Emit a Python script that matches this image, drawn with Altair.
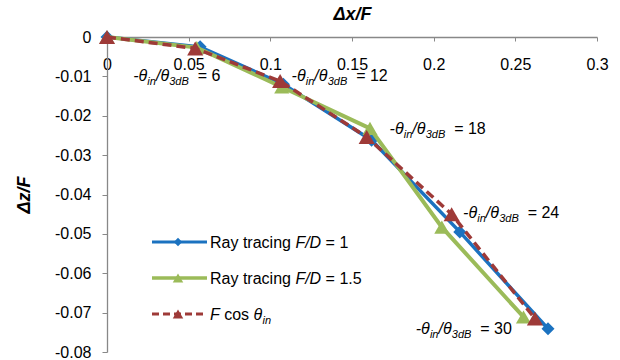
import altair as alt
import pandas as pd

# ---- data ----
x_blue = [0, 0.057, 0.108, 0.162, 0.216, 0.270]
y_blue = [0, -0.0025, -0.0120, -0.0262, -0.0495, -0.0741]
x_green = [0, 0.055, 0.107, 0.161, 0.205, 0.255]
y_green = [0, -0.0027, -0.0127, -0.0232, -0.0483, -0.0711]
x_red = [0, 0.054, 0.106, 0.159, 0.211, 0.262]
y_red = [0, -0.0029, -0.0112, -0.0254, -0.0450, -0.0715]

label_x = [0.016, 0.113, 0.173, 0.218, 0.189]
label_y = [-0.0097, -0.0097, -0.0232, -0.0445, -0.0740]
label_num = ["6", "12", "18", "24", "30"]

x_ticks = [0, 0.05, 0.1, 0.15, 0.2, 0.25, 0.3]
y_ticks = [0, -0.01, -0.02, -0.03, -0.04, -0.05, -0.06, -0.07, -0.08]

BLUE = "#1B72C0"
GREEN = "#9BBB59"
RED = "#9E3A38"
AXC = "#888888"
FONT = "Liberation Sans"

W, H = 490, 315

xscale = alt.Scale(domain=[0, 0.3], nice=False, zero=False)
yscale = alt.Scale(domain=[-0.08, 0], nice=False, zero=False)

fmt = "replace(format(datum.value, '.2~f'), '\u2212', '-')"

xaxis = alt.Axis(orient="bottom", offset=-H, values=x_ticks, tickSize=4,
                 tickColor=AXC, domainColor=AXC, domainWidth=1.3, grid=False,
                 labelFontSize=16, labelFont=FONT, labelColor="#000000",
                 labelPadding=15, labelFlush=False, labelExpr=fmt,
                 title="Δx/F", titleFont=FONT, titleFontSize=18,
                 titleFontStyle="italic", titleFontWeight="bold",
                 titleColor="#000000", titleY=-23, titleBaseline="middle")
yaxis = alt.Axis(orient="left", values=y_ticks, tickSize=5, tickColor=AXC,
                 domainColor=AXC, domainWidth=1.3, grid=False,
                 labelFontSize=16, labelFont=FONT, labelColor="#000000",
                 labelPadding=11, labelFlush=False, labelExpr=fmt,
                 title="Δz/F", titleFont=FONT, titleFontSize=18,
                 titleFontStyle="italic", titleFontWeight="bold",
                 titleColor="#000000", titleX=-83, titleY=H / 2,
                 titleAngle=-90, titleAlign="center", titleBaseline="middle")


def series_df(xs, ys):
    return pd.DataFrame({"x": xs, "y": ys, "i": list(range(len(xs)))})


def enc(ch):
    return ch.encode(
        x=alt.X("x:Q", scale=xscale, axis=xaxis),
        y=alt.Y("y:Q", scale=yscale, axis=yaxis),
        order="i:Q",
    )


blue = series_df(x_blue, y_blue)
green = series_df(x_green, y_green)
red = series_df(x_red, y_red)

layers = [
    enc(alt.Chart(blue).mark_line(color=BLUE, strokeWidth=3.5)),
    enc(alt.Chart(blue).mark_point(shape="diamond", filled=True, color=BLUE, size=170, opacity=1)),
    enc(alt.Chart(green).mark_line(color=GREEN, strokeWidth=4)),
    enc(alt.Chart(green).mark_point(shape="triangle-up", filled=True, color=GREEN, size=230, opacity=1)),
    enc(alt.Chart(red).mark_line(color=RED, strokeWidth=3.5, strokeDash=[9, 5])),
    enc(alt.Chart(red).mark_point(shape="triangle-up", filled=True, color=RED, size=260, opacity=1)),
]

# ---- data labels: -θin/θ3dB = N (composed with sub-scripts) ----
labs = pd.DataFrame({"x": label_x, "y": label_y, "num": ["= " + n for n in label_num]})
parts = [
    dict(text="-θ", dx=0, dy=6, fontSize=16, fontStyle="italic"),
    dict(text="in", dx=14.2, dy=10, fontSize=11, fontStyle="italic"),
    dict(text="/θ", dx=22.8, dy=6, fontSize=16, fontStyle="italic"),
    dict(text="3dB", dx=36.1, dy=10, fontSize=11, fontStyle="italic"),
]
for p in parts:
    layers.append(
        alt.Chart(labs).mark_text(align="left", baseline="alphabetic", font=FONT,
                                  color="#000000", **p).encode(
            x=alt.X("x:Q", scale=xscale, axis=xaxis),
            y=alt.Y("y:Q", scale=yscale, axis=yaxis),
        )
    )
layers.append(
    alt.Chart(labs).mark_text(align="left", baseline="alphabetic", font=FONT,
                              color="#000000", dx=64.6, dy=6, fontSize=16).encode(
        x=alt.X("x:Q", scale=xscale, axis=xaxis),
        y=alt.Y("y:Q", scale=yscale, axis=yaxis),
        text="num:N",
    )
)

# ---- manual legend (mixed italic text) ----
dummy = pd.DataFrame({"a": [0]})
LX1, LX2, LXM, TX = 45, 100, 71, 103
rows = [205, 241, 277]


def legline(y, color, width, dash=None):
    kw = dict(color=color, strokeWidth=width)
    if dash:
        kw["strokeDash"] = dash
    return alt.Chart(dummy).mark_rule(**kw).encode(
        x=alt.value(LX1), x2=alt.value(LX2), y=alt.value(y))


def legmark(y, color, shape, size):
    return alt.Chart(dummy).mark_point(shape=shape, filled=True, color=color,
                                       size=size, opacity=1).encode(
        x=alt.value(LXM), y=alt.value(y))


def legtext(y, text, dx=0, dy=6, size=16, style="normal"):
    return alt.Chart(dummy).mark_text(text=text, align="left", baseline="alphabetic",
                                      font=FONT, fontSize=size, fontStyle=style,
                                      color="#000000", dx=dx, dy=dy).encode(
        x=alt.value(TX), y=alt.value(y))


r1, r2, r3 = rows
layers += [
    legline(r1, BLUE, 3), legmark(r1, BLUE, "diamond", 70),
    legtext(r1, "Ray tracing"), legtext(r1, "F/D", dx=85.4, style="italic"),
    legtext(r1, "= 1", dx=115.6),
    legline(r2, GREEN, 3.5), legmark(r2, GREEN, "triangle-up", 110),
    legtext(r2, "Ray tracing"), legtext(r2, "F/D", dx=85.4, style="italic"),
    legtext(r2, "= 1.5", dx=115.6),
    legline(r3, RED, 3, [7, 4]), legmark(r3, RED, "triangle-up", 110),
    legtext(r3, "F", style="italic"), legtext(r3, "cos", dx=14.2),
    legtext(r3, "θ", dx=43.6, style="italic"),
    legtext(r3, "in", dx=52.5, dy=10, size=11, style="italic"),
]

chart = alt.layer(*layers).properties(
    width=W, height=H,
    autosize=alt.AutoSizeParams(type="none"),
    padding={"left": 107, "top": 37, "right": 23, "bottom": 8},
    background="white",
).configure_view(stroke=None)

chart.save("out.html", embed_options={"renderer": "svg", "actions": False})
